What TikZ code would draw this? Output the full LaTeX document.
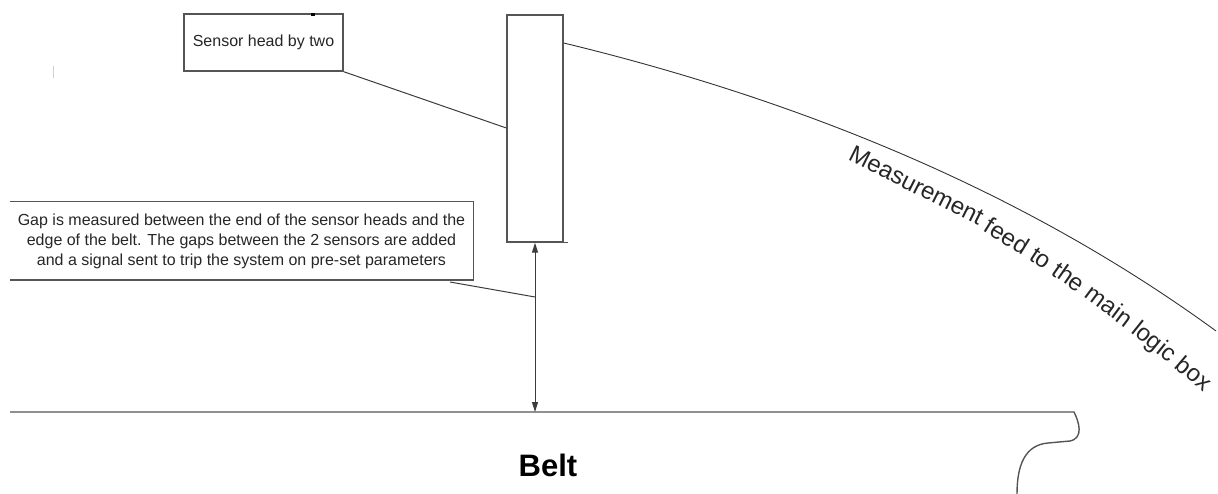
\documentclass[tikz,border=0pt]{standalone}
\usepackage{fontspec}
\setmainfont{Liberation Sans}
\usetikzlibrary{arrows.meta}
\definecolor{ln}{HTML}{555555}
\definecolor{tx}{HTML}{262626}
\begin{document}
\begin{tikzpicture}[x=1pt,y=-1pt,
  box/.style={draw=ln, line width=1.4pt, fill=white, inner sep=0pt, text=tx,
    font=\fontsize{16}{20}\selectfont},
  lbl/.style={text=tx, font=\fontsize{16}{20}\selectfont, inner sep=0pt, align=center},
  feedword/.style={sloped, anchor=base, inner sep=0pt, text=tx, font=\fontsize{24}{24}\selectfont},
  conn/.style={draw=ln!70!black, line width=1pt},
  tipend/.style={{Triangle[length=10pt,width=6pt]}-{Triangle[length=10pt,width=6pt]}}]
\useasboundingbox (0,0) rectangle (1218,494);

% faint artefact
\draw[gray!35, line width=0.8pt] (53,66) -- (53,78);

% sensor head label box
\node[box, minimum width=159pt, minimum height=57pt] (shb) at (263.5,42.5) {Sensor head by two};
\fill[black] (310.5,13.5) rectangle (314.5,16.5);

% sensor
\node[box, minimum width=56pt, minimum height=227pt] (sensor) at (535,128.5) {};
\coordinate (sensorBR) at ([xshift=4pt]sensor.south east);
\draw[ln, line width=1.4pt] (sensor.south east) -- (sensorBR);

% connector from label to sensor
\coordinate (sensorL) at (sensor.west |- 0,128);
\draw[conn] (shb.south east) -- (sensorL);

% measurement feed curve
\coordinate (feedStart) at (sensor.east |- 0,43);
\coordinate (feedEnd) at (1216,331);
\draw[ln!60!black, line width=0.9pt] (feedStart) .. controls (820,105) and (1038,201) .. (feedEnd);
\path (836,158) .. controls (952,204) and (1080,284) .. (1212,400)
   node[feedword, pos=0.2162] (fw1) {Measurement}
   node[feedword, pos=0.4597] (fw2) {feed}
   node[feedword, pos=0.5489] (fw3) {to}
   node[feedword, pos=0.6214] (fw4) {the}
   node[feedword, pos=0.7253] (fw5) {main}
   node[feedword, pos=0.8415] (fw6) {logic}
   node[feedword, pos=0.9407] (fw7) {box};

% gap text box (no left edge)
\node[lbl, minimum width=463pt, minimum height=80pt] (gapbox) at (241.5,241)
  {Gap is measured between the end of the sensor heads and the\\
   edge of the belt. The gaps between the 2 sensors are added\\
   and a signal sent to trip the system on pre-set parameters};
\draw[ln, line width=1.4pt] ([yshift=-1pt]gapbox.north west) -- ([yshift=-1pt]gapbox.north east)
   -- ([yshift=1pt]gapbox.south east) -- ([yshift=1pt]gapbox.south west);

% belt
\coordinate (beltL) at (10,412);
\coordinate (beltA) at (sensor.south |- beltL);
\coordinate (beltR) at (1074,412);
\draw[ln, line width=1.4pt] (beltL) -- (beltR)
   .. controls (1079,422) and (1084,438) .. (1070,441)
   -- (1048,443) .. controls (1025,445) and (1017,465) .. (1017,494);
\node[text=black, font=\fontsize{31}{31}\selectfont\bfseries, inner sep=0pt] (belt) at (548,465) {Belt};

% gap arrow
\draw[conn, tipend] (sensor.south) -- (beltA);
\coordinate (gapA) at (sensor.south |- 0,297);
\coordinate (gapC) at (450,282);
\draw[conn] (gapC) -- (gapA);
\end{tikzpicture}
\end{document}
